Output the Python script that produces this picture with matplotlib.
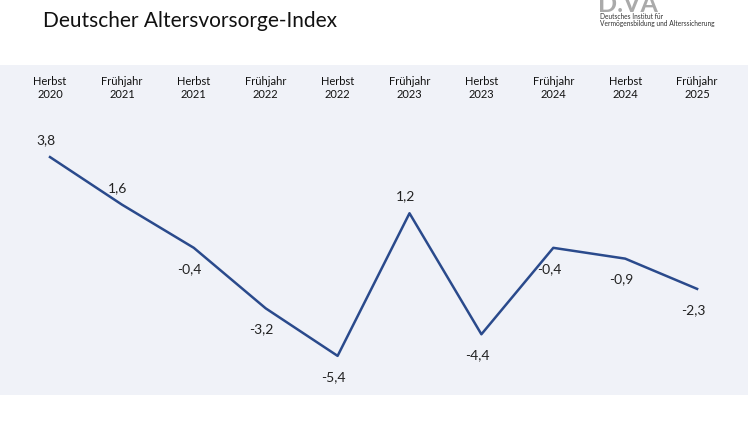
import matplotlib
matplotlib.use("Agg")
import matplotlib.pyplot as plt

categories = ["Herbst\n2020", "Frühjahr\n2021", "Herbst\n2021", "Frühjahr\n2022", "Herbst\n2022",
              "Frühjahr\n2023", "Herbst\n2023", "Frühjahr\n2024", "Herbst\n2024", "Frühjahr\n2025"]
values = [3.8, 1.6, -0.4, -3.2, -5.4, 1.2, -4.4, -0.4, -0.9, -2.3]
label_pos = ["above", "above", "below", "below", "below", "above", "below", "below", "below", "below"]

plt.rcParams['font.family'] = ['Lato', 'DejaVu Sans']
W, H = 748, 421
fig = plt.figure(figsize=(W/100, H/100), dpi=100)
fig.patch.set_facecolor("white")
ax = fig.add_axes([0, 1-395/H, 1, 330/H])
ax.set_facecolor("#f0f2f8")
for s in ax.spines.values():
    s.set_visible(False)
x = list(range(len(values)))
ax.plot(x, values, color="#2a4a8c", lw=1.8)
ax.set_xlim(-50/71.9, (W-50)/71.9)
ax.set_ylim(-7.21, 8.06)
ax.set_yticks([])
ax.set_xticks([])
for i, c in enumerate(categories):
    ax.text(i, 7.0, c, ha="center", va="center", fontsize=8, color="#111111", linespacing=1.3)
for i, v in enumerate(values):
    lab = f"{v:.1f}".replace(".", ",")
    dy = 12 if label_pos[i] == "above" else -15
    ax.annotate(lab, (i, v), xytext=(-3, dy), textcoords="offset points",
                ha="center", va="center", fontsize=10, color="#222222")

fig.text(43/W, 1-21/H, "Deutscher Altersvorsorge-Index", fontsize=15, ha="left", va="center", color="#111111")
fig.text(598/W, 1-5/H, "D.VA", fontsize=18, fontweight="bold", color="#aaaaaa", ha="left", va="center")
fig.text(600/W, 1-20/H, "Deutsches Institut für\nVermögensbildung und Alterssicherung",
         fontsize=4.8, ha="left", va="center", color="#333333", linespacing=1.1)
fig.savefig("out.png", dpi=100)
